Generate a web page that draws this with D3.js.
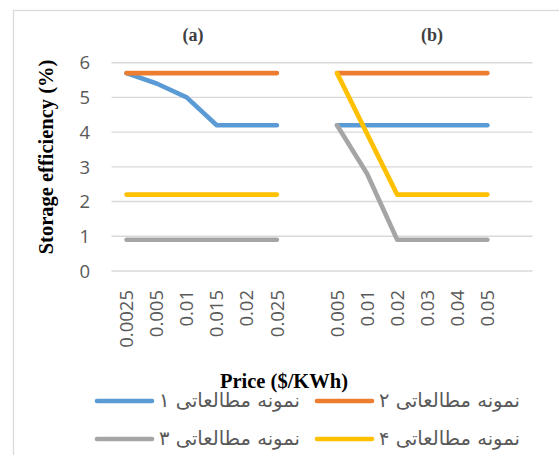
<!DOCTYPE html>
<html>
<head>
<meta charset="utf-8">
<script src="https://cdn.jsdelivr.net/npm/d3@7/dist/d3.min.js"></script>
<style>
  html, body { margin: 0; padding: 0; background: #fff; }
  svg { display: block; }
</style>
</head>
<body>
<script>
// Price categories for the two panels
const pricesA = ["0.0025", "0.005", "0.01", "0.015", "0.02", "0.025"];
const pricesB = ["0.005", "0.01", "0.02", "0.03", "0.04", "0.05"];

// Storage efficiency (%) per study case, panel (a)
const caseA1 = [5.7, 5.4, 5.0, 4.2, 4.2, 4.2];
const caseA2 = [5.7, 5.7, 5.7, 5.7, 5.7, 5.7];
const caseA3 = [0.9, 0.9, 0.9, 0.9, 0.9, 0.9];
const caseA4 = [2.2, 2.2, 2.2, 2.2, 2.2, 2.2];

// Storage efficiency (%) per study case, panel (b)
const caseB1 = [4.2, 4.2, 4.2, 4.2, 4.2, 4.2];
const caseB2 = [5.7, 5.7, 5.7, 5.7, 5.7, 5.7];
const caseB3 = [4.2, 2.8, 0.9, 0.9, 0.9, 0.9];
const caseB4 = [5.7, 3.95, 2.2, 2.2, 2.2, 2.2];

const seriesNames = ["نمونه مطالعاتی ۱", "نمونه مطالعاتی ۲", "نمونه مطالعاتی ۳", "نمونه مطالعاتی ۴"];
const seriesColors = ["#5B9BD5", "#ED7D31", "#A5A5A5", "#FFC000"];
const yTicks = [0, 1, 2, 3, 4, 5, 6];
const panelTitles = ["(a)", "(b)"];

const W = 559, H = 455;
const svg = d3.select("body").append("svg").attr("width", W).attr("height", H);

// chart frame
svg.append("rect")
  .attr("x", 13.5).attr("y", 10.5).attr("width", 700).attr("height", 600)
  .attr("fill", "#fff").attr("stroke", "#d9d9d9").attr("stroke-width", 1.3);

// slot layout: panel a, one empty slot, panel b, one empty slot
const slots = [...pricesA.map((p, i) => ({ label: p, panel: 0, i })),
               { label: "", panel: -1 },
               ...pricesB.map((p, i) => ({ label: p, panel: 1, i })),
               { label: "", panel: -1 }];
const x = d3.scaleBand().domain(d3.range(slots.length)).range([111.5, 532.5]);
const cx = k => x(k) + x.bandwidth() / 2;
const y = d3.scaleLinear().domain([0, 6]).range([271, 62.7]);

// gridlines
svg.append("g").selectAll("line").data(yTicks).join("line")
  .attr("x1", 111.5).attr("x2", 532.5)
  .attr("y1", d => y(d)).attr("y2", d => y(d))
  .attr("stroke", "#d9d9d9").attr("stroke-width", 1.4);

// y axis tick labels
const tickFont = "'Open Sans', 'DejaVu Sans', sans-serif";
svg.append("g").selectAll("text").data(yTicks).join("text")
  .attr("x", 90).attr("y", d => y(d)).attr("dy", "0.36em")
  .attr("text-anchor", "end")
  .attr("font-family", tickFont).attr("font-size", 18.5).attr("fill", "#595959")
  .text(d => d);

// x axis tick labels (rotated)
svg.append("g").selectAll("text").data(slots.map((s, k) => ({ ...s, k })).filter(s => s.label))
  .join("text")
  .attr("transform", d => `translate(${cx(d.k)},290) rotate(-90)`)
  .attr("dy", "0.36em")
  .attr("text-anchor", "end")
  .attr("font-family", tickFont).attr("font-size", 18.5).attr("fill", "#595959")
  .text(d => d.label);

// axis titles
const serif = "'Liberation Serif', 'Times New Roman', serif";
svg.append("text")
  .attr("transform", "translate(46,157) rotate(-90)")
  .attr("dy", "0.35em").attr("text-anchor", "middle")
  .attr("font-family", serif).attr("font-weight", "bold").attr("font-size", 20.5).attr("fill", "#000")
  .text("Storage efficiency (%)");
svg.append("text")
  .attr("x", 284).attr("y", 388).attr("text-anchor", "middle")
  .attr("font-family", serif).attr("font-weight", "bold").attr("font-size", 20.5).attr("fill", "#000")
  .text("Price ($/KWh)");

// panel titles
svg.append("g").selectAll("text").data(panelTitles).join("text")
  .attr("x", (d, i) => [193, 432][i]).attr("y", 41)
  .attr("text-anchor", "middle")
  .attr("font-family", serif).attr("font-weight", "bold").attr("font-size", 18).attr("fill", "#404040")
  .text(d => d);

// lines
const panels = [
  [caseA1, caseA2, caseA3, caseA4],
  [caseB1, caseB2, caseB3, caseB4]
];
const offsets = [0, pricesA.length + 1];
const line = d3.line().x(d => d[0]).y(d => d[1]);
panels.forEach((group, p) => {
  group.forEach((values, s) => {
    const pts = values.map((v, i) => [cx(offsets[p] + i), y(v)]);
    svg.append("path")
      .attr("d", line(pts))
      .attr("fill", "none")
      .attr("stroke", seriesColors[s])
      .attr("stroke-width", 4.6)
      .attr("stroke-linecap", "round")
      .attr("stroke-linejoin", "round");
  });
});

// legend
const legendPos = [
  { lx: 97, ly: 401 }, { lx: 317, ly: 401 },
  { lx: 97, ly: 439 }, { lx: 317, ly: 439 }
];
const legend = svg.append("g").selectAll("g").data(seriesNames).join("g")
  .attr("transform", (d, i) => `translate(${legendPos[i].lx},${legendPos[i].ly})`);
legend.append("line")
  .attr("x1", 0).attr("x2", 55).attr("y1", 0).attr("y2", 0)
  .attr("stroke", (d, i) => seriesColors[i])
  .attr("stroke-width", 4.6).attr("stroke-linecap", "round");
legend.append("text")
  .attr("x", 62).attr("y", 0).attr("dy", "0.3em")
  .attr("text-anchor", "start")
  .attr("font-family", "'DejaVu Sans', sans-serif").attr("font-size", 19.5).attr("fill", "#595959")
  .text(d => d);
</script>
</body>
</html>
